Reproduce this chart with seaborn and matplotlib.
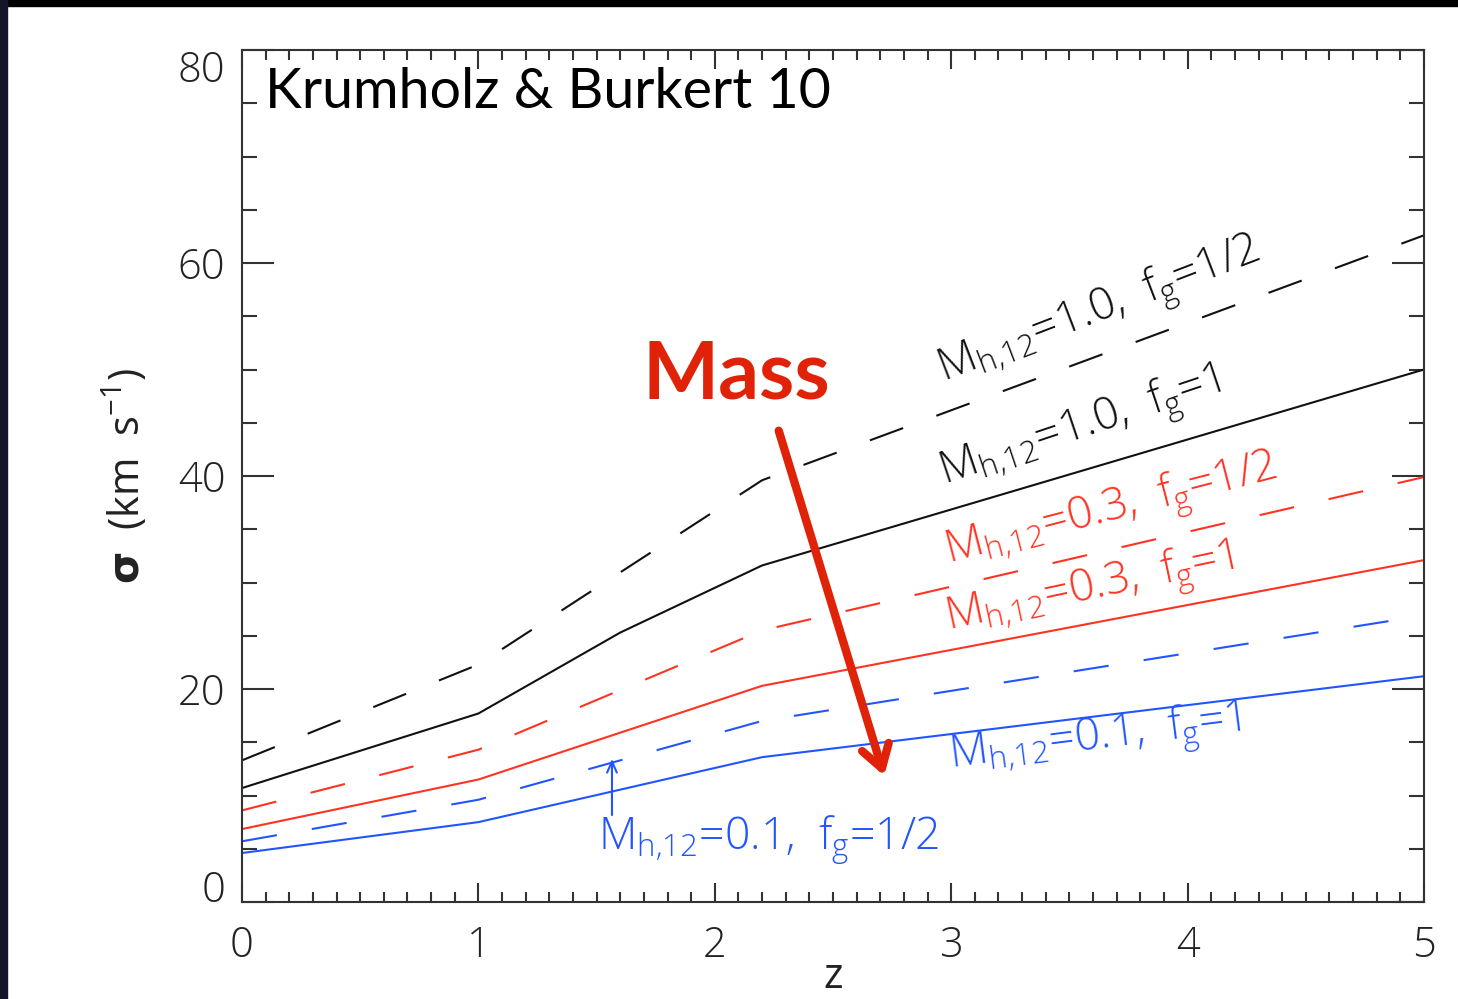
import matplotlib
matplotlib.use("Agg")
import matplotlib.pyplot as plt
import matplotlib.patches as mpatches
from matplotlib.ticker import MultipleLocator
import seaborn as sns

# ---- data ----
z_bs = [0, 1, 1.6, 2.2, 5]
sig_bs = [10.7, 17.7, 25.3, 31.6, 50.0]      # M=1.0, fg=1 (black solid)
z_bd = [0, 1, 2.2, 5]
sig_bd = [13.3, 22.3, 39.6, 62.6]            # M=1.0, fg=1/2 (black dashed)
z_rd = [0, 1, 2.2, 5]
sig_rd = [8.6, 14.3, 25.5, 39.9]             # M=0.3, fg=1/2 (red dashed)
z_rs = [0, 1, 2.2, 5]
sig_rs = [6.85, 11.5, 20.3, 32.1]            # M=0.3, fg=1 (red solid)
z_ud = [0, 1, 2.2, 5]
sig_ud = [5.7, 9.6, 17.0, 26.9]              # M=0.1, fg=1/2 (blue dashed)
z_us = [0, 1, 2.2, 5]
sig_us = [4.6, 7.5, 13.6, 21.2]              # M=0.1, fg=1 (blue solid)

x_ticks = [0, 1, 2, 3, 4, 5]
y_ticks = [0, 20, 40, 60, 80]

BLACK = "#111111"
RED = "#ff3322"
BLUE = "#2255ff"
ARROW_RED = "#e02208"

sns.set_style("ticks")
plt.rcParams["font.family"] = ["Open Sans", "DejaVu Sans"]
plt.rcParams["font.weight"] = "light"
plt.rcParams["mathtext.default"] = "regular"

fig = plt.figure(figsize=(14.58, 9.99), dpi=100)
fig.patch.set_facecolor("white")
ax = fig.add_axes([242 / 1458, 1 - 902 / 999, (1424 - 242) / 1458, (902 - 50) / 999])

# frame strips of the slide
fig.add_artist(mpatches.Rectangle((0, 1 - 6 / 999), 1, 6 / 999, transform=fig.transFigure,
                                  color="black", zorder=10))
fig.add_artist(mpatches.Rectangle((0, 0), 7 / 1458, 1, transform=fig.transFigure,
                                  color="#14142a", zorder=10))

DASH = (0, (17, 17))
series = [
    (z_bd, sig_bd, BLACK, DASH),
    (z_bs, sig_bs, BLACK, "-"),
    (z_rd, sig_rd, RED, DASH),
    (z_rs, sig_rs, RED, "-"),
    (z_ud, sig_ud, BLUE, DASH),
    (z_us, sig_us, BLUE, "-"),
]
for zz, ss, col, ls in series:
    sns.lineplot(x=zz, y=ss, color=col, linewidth=1.5, ax=ax, sort=False)
    ax.lines[-1].set_linestyle(ls)

ax.set_xlim(0, 5)
ax.set_ylim(0, 80)
ax.set_xticks(x_ticks)
ax.set_yticks(y_ticks)
ax.xaxis.set_minor_locator(MultipleLocator(0.1))
ax.yaxis.set_minor_locator(MultipleLocator(5))
ax.tick_params(axis="both", which="both", direction="in", top=True, right=True,
               color="#333333", width=1.5, labelsize=30, labelcolor="#222222")
ax.tick_params(axis="x", which="major", length=14, pad=16)
ax.tick_params(axis="x", which="minor", length=7)
ax.tick_params(axis="y", which="major", length=23, pad=12)
ax.tick_params(axis="y", which="minor", length=11)
for sp in ax.spines.values():
    sp.set_linewidth(1.5)
    sp.set_color("#333333")
ylabels = ax.get_yticklabels()
ylabels[0].set_va("baseline")
ylabels[-1].set_va("top")

ax.set_xlabel("z", fontsize=30, color="#222222", labelpad=-8)
ax.set_ylabel(r"$\mathbf{\sigma}$  (km  s$^{-1}$)", fontsize=30, color="#222222", labelpad=20)

# title-like annotation
ax.text(0.097, 74.6, "Krumholz & Burkert 10", fontsize=40, family="Lato",
        color="black", ha="left", va="baseline", fontweight="normal")

# line labels
lab_fs = 32
def lab(x, y, s, col, rot):
    ax.text(x, y, s, color=col, fontsize=lab_fs, rotation=rot, rotation_mode="anchor",
            ha="left", va="baseline")

lab(2.97, 48.8, r"M$_{h{,}12}$=1.0,  f$_g$=1/2", BLACK, 21)
lab(2.97, 39.2, r"M$_{h{,}12}$=1.0,  f$_g$=1", BLACK, 18.5)
lab(2.99, 31.8, r"M$_{h{,}12}$=0.3,  f$_g$=1/2", RED, 14.5)
lab(2.99, 25.5, r"M$_{h{,}12}$=0.3,  f$_g$=1", RED, 12)
lab(3.0, 12.6, r"M$_{h{,}12}$=0.1,  f$_g$=1", BLUE, 7.2)
lab(1.506, 4.9, r"M$_{h{,}12}$=0.1,  f$_g$=1/2", BLUE, 0)
ax.annotate("", xy=(1.565, 13.7), xytext=(1.565, 7.9),
            arrowprops=dict(arrowstyle="->,head_length=0.8,head_width=0.35",
                            color=BLUE, lw=1.5))

# "Mass" annotation with arrow
ax.text(1.696, 47.3, "Mass", fontsize=58, family="Lato", color=ARROW_RED,
        ha="left", va="baseline", fontweight="bold")
ax.annotate("", xy=(2.72, 11.6), xytext=(2.267, 44.5),
            arrowprops=dict(arrowstyle="->,head_length=1.6,head_width=1.0",
                            color=ARROW_RED, lw=6))

fig.savefig("out.png", dpi=100, facecolor=fig.get_facecolor())
